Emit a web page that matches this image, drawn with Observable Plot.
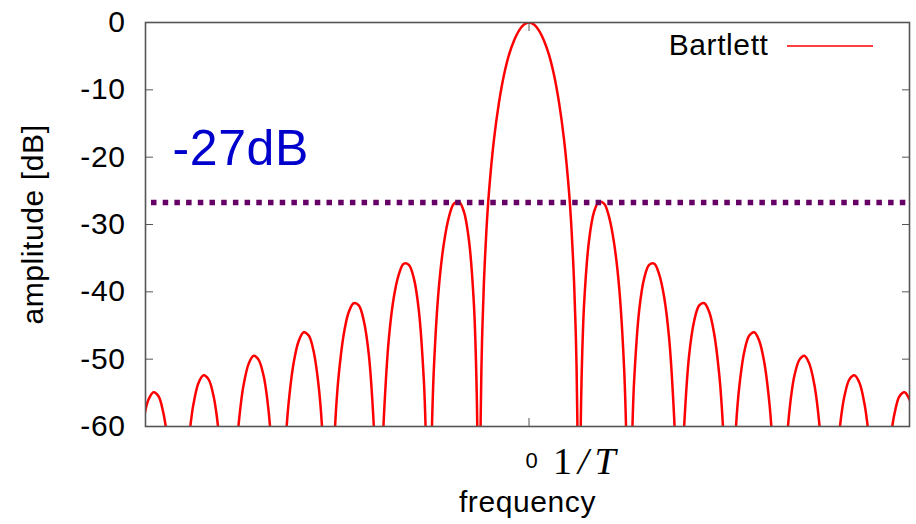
<!DOCTYPE html>
<html><head><meta charset="utf-8">
<script src="https://cdn.jsdelivr.net/npm/d3@7"></script>
<script src="https://cdn.jsdelivr.net/npm/@observablehq/plot@0.6"></script>
<style>body{margin:0;background:#fff} #chart svg{display:block}</style>
</head><body><div id="chart"></div>
<script>
// ---- data ----
const seriesName = "Bartlett";
const xLabel = "frequency";
const yLabel = "amplitude [dB]";
const yTicks = [0, -10, -20, -30, -40, -50, -60];
const xTicks = [0];
const xTickLabels = ["0"];
const periodLabel = "1/T";
const sidelobeLevel = -26.75;
const sidelobeNote = [{label: "-27dB", freq: -7.12, amp: -21.2}];

// frequency (in units of the main-lobe half width) for every lobe, left to right
const lobeFreq = [
  [-7.75, -7.7, -7.6, -7.5, -7.4, -7.3, -7.25, -7.2],
  [-6.8, -6.75, -6.7, -6.6, -6.5, -6.4, -6.3, -6.25, -6.2, -6.15],
  [-5.85, -5.8, -5.75, -5.7, -5.6, -5.5, -5.4, -5.3, -5.25, -5.2, -5.15],
  [-4.9, -4.85, -4.8, -4.7, -4.6, -4.5, -4.4, -4.3, -4.2, -4.15, -4.1],
  [-3.9, -3.85, -3.8, -3.7, -3.6, -3.5, -3.4, -3.3, -3.2, -3.1, -3.07],
  [-2.95, -2.92, -2.9, -2.8, -2.7, -2.6, -2.5, -2.4, -2.3, -2.2, -2.1, -2.07, -2.05],
  [-1.95, -1.9, -1.8, -1.7, -1.6, -1.5, -1.4, -1.3, -1.2, -1.1, -1.05, -1.03],
  [-0.98, -0.95, -0.93, -0.9, -0.85, -0.8, -0.7, -0.6, -0.5, -0.4, -0.3, -0.2, -0.1, 0, 0.1, 0.2, 0.3, 0.4, 0.5, 0.6, 0.7, 0.8, 0.85, 0.9, 0.93, 0.95, 0.98],
  [1.03, 1.05, 1.1, 1.2, 1.3, 1.4, 1.5, 1.6, 1.7, 1.8, 1.9, 1.95],
  [2.05, 2.07, 2.1, 2.2, 2.3, 2.4, 2.5, 2.6, 2.7, 2.8, 2.9, 2.92, 2.95],
  [3.07, 3.1, 3.2, 3.3, 3.4, 3.5, 3.6, 3.7, 3.8, 3.85, 3.9],
  [4.1, 4.15, 4.2, 4.3, 4.4, 4.5, 4.6, 4.7, 4.8, 4.85, 4.9],
  [5.15, 5.2, 5.25, 5.3, 5.4, 5.5, 5.6, 5.7, 5.75, 5.8, 5.85],
  [6.15, 6.2, 6.25, 6.3, 6.4, 6.5, 6.6, 6.7, 6.75, 6.8],
  [7.2, 7.25, 7.3, 7.4, 7.5, 7.6, 7.7, 7.75]
];
// amplitude in dB for the same points
const lobeAmp = [
  [-61.5, -59.0, -56.0, -54.9, -55.5, -58.1, -60.3, -63.4],
  [-62.4, -59.1, -56.6, -53.5, -52.4, -53.0, -55.5, -57.7, -60.8, -65.2],
  [-64.3, -59.7, -56.3, -53.8, -50.7, -49.5, -50.1, -52.5, -54.7, -57.8, -62.1],
  [-67.9, -61.0, -56.4, -50.5, -47.3, -46.0, -46.5, -48.9, -54.1, -58.3, -64.8],
  [-63.9, -57.0, -52.3, -46.3, -43.0, -41.7, -42.0, -44.3, -49.3, -59.9, -65.8],
  [-70.9, -62.7, -58.8, -47.0, -40.8, -37.4, -35.8, -36.0, -38.0, -42.8, -53.2, -59.0, -64.6],
  [-63.7, -51.4, -39.3, -32.8, -28.9, -26.9, -26.6, -28.1, -32.3, -41.9, -53.0, -61.5],
  [-67.6, -51.2, -45.1, -38.5, -30.8, -25.2, -17.4, -11.9, -7.8, -4.8, -2.7, -1.2, -0.3, 0, -0.3, -1.2, -2.7, -4.8, -7.8, -11.9, -17.4, -25.2, -30.8, -38.5, -45.1, -51.2, -67.6],
  [-61.5, -53.0, -41.9, -32.3, -28.1, -26.6, -26.9, -28.9, -32.8, -39.3, -51.4, -63.7],
  [-64.6, -59.0, -53.2, -42.8, -38.0, -36.0, -35.8, -37.4, -40.8, -47.0, -58.8, -62.7, -70.9],
  [-65.8, -59.9, -49.3, -44.3, -42.0, -41.7, -43.0, -46.3, -52.3, -57.0, -63.9],
  [-64.8, -58.3, -54.1, -48.9, -46.5, -46.0, -47.3, -50.5, -56.4, -61.0, -67.9],
  [-62.1, -57.8, -54.7, -52.5, -50.1, -49.5, -50.7, -53.8, -56.3, -59.7, -64.3],
  [-65.2, -60.8, -57.7, -55.5, -53.0, -52.4, -53.5, -56.6, -59.1, -62.4],
  [-63.4, -60.3, -58.1, -55.5, -54.9, -56.0, -59.0, -61.5]
];

const rows = lobeFreq.flatMap((fs, i) => fs.map((f, j) => ({freq: f, amp: lobeAmp[i][j], lobe: i})));

const W = 916, H = 524, mT = 22, mR = 7, mB = 98, mL = 145;
const frameColor = "#555555";

const chart = Plot.plot({
  width: W, height: H,
  marginTop: mT, marginRight: mR, marginBottom: mB, marginLeft: mL,
  style: {fontFamily: "'Liberation Sans', Arial, Helvetica, sans-serif", background: "white", color: "black", letterSpacing: "0.6px"},
  x: {domain: [-7.66, 7.6]},
  y: {domain: [-60, 0]},
  marks: [
    Plot.line(rows, {x: "freq", y: "amp", z: "lobe", stroke: "#ff0000", strokeWidth: 2.5, curve: "catmull-rom", clip: true}),
    Plot.ruleY([sidelobeLevel], {stroke: "#660066", strokeWidth: 5.5, strokeDasharray: "5.5,6.2", strokeDashoffset: 5.7}),
    Plot.frame({stroke: frameColor, strokeWidth: 1.6}),
    Plot.axisY(yTicks, {anchor: "left", tickSize: -8, tickPadding: 28, tickFormat: d => String(d), fontSize: 30, label: null, stroke: frameColor, fill: "black"}),
    Plot.axisY(yTicks, {anchor: "right", tickSize: -8, tickFormat: () => "", label: null, stroke: frameColor}),
    Plot.axisX(xTicks, {anchor: "bottom", tickSize: -8, tickFormat: () => "", label: null, stroke: frameColor}),
    Plot.axisX(xTicks, {anchor: "top", tickSize: -8, tickFormat: () => "", label: null, stroke: frameColor}),
    Plot.text(xTicks, {x: d => d, text: (d, i) => xTickLabels[i], frameAnchor: "bottom", dx: 3, dy: 41, lineAnchor: "bottom", fontSize: 22, fill: "black"}),
    Plot.text(sidelobeNote, {x: "freq", y: "amp", text: "label", fill: "#0000cc", fontSize: 50, textAnchor: "start", lineAnchor: "bottom"}),
    Plot.text([yLabel], {text: d => d, frameAnchor: "left", textAnchor: "middle", dx: -112, rotate: -90, fontSize: 30, fill: "black"}),
    Plot.text([xLabel], {text: d => d, frameAnchor: "bottom", dy: 85, lineAnchor: "bottom", fontSize: 30, fill: "black"}),
    Plot.text([seriesName], {text: d => d, frameAnchor: "top-right", dx: -141, dy: 32, textAnchor: "end", lineAnchor: "bottom", fontSize: 30, fill: "black"}),
    Plot.text([periodLabel], {text: d => d, x: xTicks[0], frameAnchor: "bottom", dx: 24, dy: 47, textAnchor: "start", lineAnchor: "bottom", fontSize: 38, fill: "black", fontFamily: "'Liberation Serif', 'Times New Roman', serif"})
  ]
});

// math-style "1/T": upright 1, italic /T
d3.select(chart).selectAll("text").filter(function() { return this.textContent === periodLabel; }).each(function() {
  const t = d3.select(this);
  t.text(null).style("letter-spacing", "0px");
  t.append("tspan").text("1");
  t.append("tspan").attr("dx", 6).attr("font-style", "italic").text("/");
  t.append("tspan").attr("dx", 6).attr("font-style", "italic").text("T");
});

// legend sample line for the series
d3.select(chart).append("line")
  .attr("x1", W - mR - 122).attr("x2", W - mR - 36)
  .attr("y1", mT + 24).attr("y2", mT + 24)
  .attr("stroke", "#ff0000").attr("stroke-width", 1.5);

document.getElementById("chart").appendChild(chart);
</script>
</body></html>
